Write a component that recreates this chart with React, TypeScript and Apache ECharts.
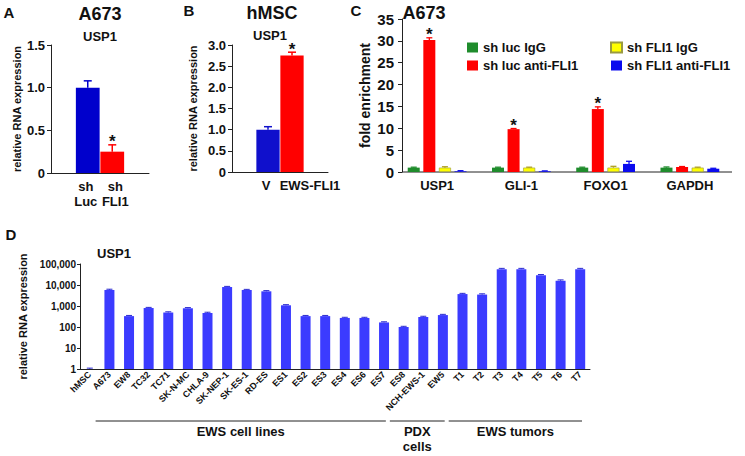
import React, { useEffect, useRef } from 'react';
import * as echarts from 'echarts';

const FONT = '"Liberation Sans", Arial, Helvetica, sans-serif';
const INK = '#111111';

// ---------- Panel A : A673, USP1 ----------
const aPad = ['padL', 'padR'];
const aCategories = ['sh\nLuc', 'sh\nFLI1'];
const aValues = [1.0, 0.25];
const aErrors = [0.08, 0.08];
const aSignificant = [0, 1];

// ---------- Panel B : hMSC, USP1 ----------
const bPad = ['padL', 'padR'];
const bCategories = ['V', 'EWS-FLI1'];
const bValues = [1.0, 2.75];
const bErrors = [0.07, 0.08];
const bSignificant = [0, 1];

// ---------- Panel C : A673 ChIP ----------
const cCategories = ['USP1', 'GLI-1', 'FOXO1', 'GAPDH'];
const cSeriesNames = ['sh luc IgG', 'sh luc anti-FLI1', 'sh FLI1 IgG', 'sh FLI1 anti-FLI1'];
const cShLucIgG = [1.0, 1.0, 1.0, 1.0];
const cShLucIgGErr = [0.1, 0.1, 0.1, 0.15];
const cShLucAnti = [30.2, 9.8, 14.4, 1.15];
const cShLucAntiErr = [0.5, 0.15, 0.5, 0.1];
const cShLucAntiSig = [1, 1, 1, 0];
const cShFliIgG = [1.0, 1.0, 1.0, 1.0];
const cShFliIgGErr = [0.2, 0.1, 0.3, 0.1];
const cShFliAnti = [0.15, 0.15, 1.85, 0.75];
const cShFliAntiErr = [0.15, 0.1, 0.6, 0.1];

// ---------- Panel D : USP1 across samples ----------
const dCategories = [
  'hMSC', 'A673', 'EW8', 'TC32', 'TC71', 'SK-N-MC', 'CHLA-9', 'SK-NEP-1', 'SK-ES-1', 'RD-ES',
  'ES1', 'ES2', 'ES3', 'ES4', 'ES6', 'ES7', 'ES8', 'NCH-EWS-1', 'EW5',
  'T1', 'T2', 'T3', 'T4', 'T5', 'T6', 'T7',
];
const dValues = [
  1, 5800, 330, 800, 490, 780, 465, 8000, 5800, 5000,
  1080, 330, 330, 270, 270, 165, 100, 300, 370,
  3700, 3500, 57000, 57000, 29000, 16000, 57000,
];
const dErrors = [
  0.1, 500, 25, 60, 40, 60, 40, 600, 400, 400,
  80, 25, 25, 20, 20, 12, 8, 25, 30,
  300, 300, 5000, 5000, 2500, 1500, 5000,
];
const dYTicks = [1, 10, 100, 1000, 10000, 100000];
const dGroupLabels = ['EWS cell lines', 'PDX\ncells', 'EWS tumors'];
const dGroupFrom = ['A673', 'ES8', 'T1'];
const dGroupTo = ['ES7', 'EW5', 'T7'];

const aColors = ['#0000cc', '#ff0000'];
const bColors = ['#1010cc', '#ff0000'];
const cColors = ['#1f8c2c', '#ff0000', '#ffff00', '#0a0aee'];
const dColor = '#3b3bff';

function errorRenderer(colors: string[] | string, offset: number, cap: number, lw: number, star: number) {
  return (params: any, api: any) => {
    const idx = api.value(0);
    const v = api.value(1);
    const e = api.value(2);
    const sig = api.value(3);
    const p0 = api.coord([idx, v]);
    const p1 = api.coord([idx, v + e]);
    const x = p0[0] + offset;
    const color = Array.isArray(colors) ? colors[params.dataIndex % colors.length] : colors;
    const children: any[] = [
      { type: 'line', shape: { x1: x, y1: p0[1], x2: x, y2: p1[1] }, style: { stroke: color, lineWidth: lw } },
      { type: 'line', shape: { x1: x - cap / 2, y1: p1[1], x2: x + cap / 2, y2: p1[1] }, style: { stroke: color, lineWidth: lw } },
    ];
    if (sig) {
      children.push({
        type: 'text',
        x,
        y: p1[1] - 3,
        style: {
          text: '*', fill: INK, fontSize: star, fontWeight: 'bold', fontFamily: FONT,
          align: 'center', verticalAlign: 'middle',
        },
      });
    }
    return { type: 'group', children };
  };
}

const yName = (size: number) => ({ fontSize: size, fontWeight: 'bold', color: INK, fontFamily: FONT });
const axisLine = { show: true, lineStyle: { color: '#222', width: 1 } };
const richBold = (pad: number[]) => ({ fontSize: 13, fontWeight: 'bold', color: INK, lineHeight: 15, padding: pad });

function txt(x: number, y: number, text: string, size: number, extra: any = {}) {
  return {
    type: 'text', x, y,
    style: {
      text, fill: INK, fontSize: size, fontWeight: 'bold', fontFamily: FONT,
      align: 'center', verticalAlign: 'middle', ...extra,
    },
  };
}

export default function App() {
  const ref = useRef<HTMLDivElement>(null);
  useEffect(() => {
    if (!ref.current) return;
    const chart = echarts.init(ref.current, null, { renderer: 'svg' });
    const cSeriesData = [cShLucIgG, cShLucAnti, cShFliIgG, cShFliAnti];
    const cErrData = [cShLucIgGErr, cShLucAntiErr, cShFliIgGErr, cShFliAntiErr];
    const cSig = [[0, 0, 0, 0], cShLucAntiSig, [0, 0, 0, 0], [0, 0, 0, 0]];
    const cBarW = 12;
    const cGap = 3.6;
    const cTotal = 4 * cBarW + 3 * cGap;
    const cGridLeft = 395;
    const cAxisLeft = 402;

    const option: any = {
      animation: false,
      backgroundColor: '#ffffff',
      textStyle: { fontFamily: FONT },
      grid: [
        { left: 51, top: 45, width: 98, height: 128 },
        { left: 232, top: 45, width: 96, height: 127 },
        { left: cGridLeft, top: 19, width: 337, height: 153 },
        { left: 80, top: 264, width: 510, height: 105 },
      ],
      legend: [
        {
          data: [cSeriesNames[0], cSeriesNames[1]], orient: 'vertical', left: 462, top: 36,
          itemWidth: 11, itemHeight: 10, itemGap: 5, icon: 'rect', selectedMode: false,
          textStyle: { fontSize: 13, fontWeight: 'bold', color: INK, fontFamily: FONT },
        },
        {
          data: [cSeriesNames[2], cSeriesNames[3]], orient: 'vertical', left: 605, top: 36,
          itemWidth: 11, itemHeight: 10, itemGap: 5, icon: 'rect', selectedMode: false,
          textStyle: { fontSize: 13, fontWeight: 'bold', color: INK, fontFamily: FONT },
        },
      ],
      xAxis: [
        {
          type: 'category', gridIndex: 0, data: [aPad[0], ...aCategories, aPad[1]],
          axisLine, axisTick: { show: false },
          axisLabel: {
            interval: 0, margin: 6, fontSize: 13, fontWeight: 'bold', color: INK, lineHeight: 15,
            formatter: (v: string) => {
              if (aPad.includes(v)) return '';
              const tag = v === aCategories[0] ? 'l' : 'r';
              return v.split('\n').map((s) => '{' + tag + '|' + s + '}').join('\n');
            },
            rich: { l: richBold([0, 4, 0, 0]), r: richBold([0, 0, 0, 6]) },
          },
        },
        {
          type: 'category', gridIndex: 1, data: [bPad[0], ...bCategories, bPad[1]],
          axisLine, axisTick: { show: false },
          axisLabel: {
            interval: 0, margin: 6, fontSize: 13, fontWeight: 'bold', color: INK,
            formatter: (v: string) => (bPad.includes(v) ? '' : v === bCategories[0] ? '{l|' + v + '}' : '{r|' + v + '}'),
            rich: { l: richBold([0, 4, 0, 0]), r: richBold([0, 0, 0, 36]) },
          },
        },
        {
          type: 'category', gridIndex: 2, data: cCategories,
          axisLine: { show: false }, axisTick: { show: false },
          axisLabel: { interval: 0, margin: 7, fontSize: 13, fontWeight: 'bold', color: INK },
        },
        {
          type: 'category', gridIndex: 3, data: dCategories,
          axisLine, axisTick: { show: false },
          axisLabel: { interval: 0, rotate: 45, margin: 4, fontSize: 9, fontWeight: 'bold', color: INK },
        },
      ],
      yAxis: [
        {
          type: 'value', gridIndex: 0, min: 0, max: 1.5, interval: 0.5,
          axisLine, axisTick: { show: true, length: 4, lineStyle: { color: '#222' } }, splitLine: { show: false },
          axisLabel: { margin: 6, fontSize: 13, fontWeight: 'bold', color: INK, formatter: (v: number) => (v === 0 ? '0' : v.toFixed(1)) },
          name: 'relative RNA expression', nameLocation: 'middle', nameGap: 29, nameTextStyle: yName(11),
        },
        {
          type: 'value', gridIndex: 1, min: 0, max: 3, interval: 0.5,
          axisLine, axisTick: { show: true, length: 4, lineStyle: { color: '#222' } }, splitLine: { show: false },
          axisLabel: { margin: 6, fontSize: 13, fontWeight: 'bold', color: INK, formatter: (v: number) => (v === 0 ? '0' : v.toFixed(1)) },
          name: 'relative RNA expression', nameLocation: 'middle', nameGap: 34, nameTextStyle: yName(11),
        },
        {
          type: 'value', gridIndex: 2, min: 0, max: 35, interval: 5, offset: cGridLeft - cAxisLeft,
          axisLine, axisTick: { show: true, length: 4, lineStyle: { color: '#222' } }, splitLine: { show: false },
          axisLabel: { margin: 8, fontSize: 15, fontWeight: 'bold', color: INK },
          name: 'fold enrichment', nameLocation: 'middle', nameGap: 30, nameTextStyle: yName(14),
        },
        {
          type: 'log', gridIndex: 3, min: dYTicks[0], max: dYTicks[dYTicks.length - 1], logBase: 10,
          axisLine, axisTick: { show: true, length: 3, lineStyle: { color: '#222' } }, splitLine: { show: false },
          axisLabel: { margin: 4, fontSize: 10, fontWeight: 'bold', color: INK, formatter: (v: number) => Math.round(v).toLocaleString('en-US') },
          name: 'relative RNA expression', nameLocation: 'middle', nameGap: 49, nameTextStyle: yName(11),
        },
      ],
      series: [
        {
          type: 'bar', name: 'A', xAxisIndex: 0, yAxisIndex: 0, barWidth: '97%',
          data: aCategories.map((c, i) => ({ value: [c, aValues[i]], itemStyle: { color: aColors[i] } })),
        },
        {
          type: 'custom', name: 'A err', xAxisIndex: 0, yAxisIndex: 0, z: 5,
          renderItem: errorRenderer(aColors, 0, 8, 1.5, 17),
          data: aCategories.map((c, i) => [c, aValues[i], aErrors[i], aSignificant[i]]),
        },
        {
          type: 'bar', name: 'B', xAxisIndex: 1, yAxisIndex: 1, barWidth: '97%',
          data: bCategories.map((c, i) => ({ value: [c, bValues[i]], itemStyle: { color: bColors[i] } })),
        },
        {
          type: 'custom', name: 'B err', xAxisIndex: 1, yAxisIndex: 1, z: 5,
          renderItem: errorRenderer(bColors, 0, 8, 1.5, 17),
          data: bCategories.map((c, i) => [c, bValues[i], bErrors[i], bSignificant[i]]),
        },
        ...cSeriesNames.map((n, s) => ({
          type: 'bar', name: n, xAxisIndex: 2, yAxisIndex: 2, barWidth: cBarW, barGap: (cGap / cBarW) * 100 + '%',
          itemStyle: { color: cColors[s], borderColor: s === 2 ? '#9a9a40' : cColors[s], borderWidth: s === 2 ? 0.6 : 0 },
          data: cSeriesData[s],
        })),
        ...cSeriesNames.map((n, s) => ({
          type: 'custom', name: n + ' err', xAxisIndex: 2, yAxisIndex: 2, z: 5,
          renderItem: errorRenderer(s === 2 ? '#b0a020' : cColors[s], -cTotal / 2 + cBarW / 2 + s * (cBarW + cGap), 6, 1.3, 17),
          data: cCategories.map((c, i) => [c, cSeriesData[s][i], cErrData[s][i], cSig[s][i]]),
        })),
        {
          type: 'bar', name: 'D', xAxisIndex: 3, yAxisIndex: 3, barWidth: 10,
          itemStyle: { color: dColor },
          data: dValues,
        },
        {
          type: 'custom', name: 'D err', xAxisIndex: 3, yAxisIndex: 3, z: 5,
          renderItem: errorRenderer('#2a2ad0', 0, 6, 1, 12),
          data: dCategories.map((c, i) => [c, dValues[i], dErrors[i], 0]),
        },
      ],
    };
    chart.setOption(option);

    // x-axis baseline of panel C, from the y-axis to the grid's right edge
    const cZeroY = chart.convertToPixel({ yAxisIndex: 2 }, 0) as unknown as number;

    // sample-group brackets for panel D
    const px = (name: string) => chart.convertToPixel({ xAxisIndex: 3 }, name) as unknown as number;
    const catW = px(dCategories[1]) - px(dCategories[0]);
    const lineY = 421;
    const groupEls: any[] = [];
    dGroupLabels.forEach((label, g) => {
      const x1 = px(dGroupFrom[g]) - catW / 2 - 4;
      const x2 = px(dGroupTo[g]) + catW / 2 - 8;
      groupEls.push({ type: 'line', shape: { x1, y1: lineY, x2, y2: lineY }, style: { stroke: '#222', lineWidth: 1 } });
      groupEls.push(txt((x1 + x2) / 2, lineY + 3, label, 13, { verticalAlign: 'top', lineHeight: 15 }));
    });

    chart.setOption({
      graphic: {
        elements: [
          { type: 'line', shape: { x1: cAxisLeft, y1: cZeroY, x2: cGridLeft + 337, y2: cZeroY }, style: { stroke: '#222', lineWidth: 1 } },
          txt(9, 12, 'A', 15),
          txt(100, 14, 'A673', 18),
          txt(100, 36, 'USP1', 13),
          txt(189, 10, 'B', 15),
          txt(272, 13, 'hMSC', 18),
          txt(270, 35, 'USP1', 13),
          txt(356, 10, 'C', 15),
          txt(424, 13, 'A673', 18),
          txt(11, 234, 'D', 15),
          txt(114, 253, 'USP1', 13),
          ...groupEls,
        ],
      },
    });

    return () => chart.dispose();
  }, []);
  return (
    <div
      ref={ref}
      style={{ position: 'fixed', left: 0, top: 0, width: 745, height: 456, background: '#fff' }}
    />
  );
}
